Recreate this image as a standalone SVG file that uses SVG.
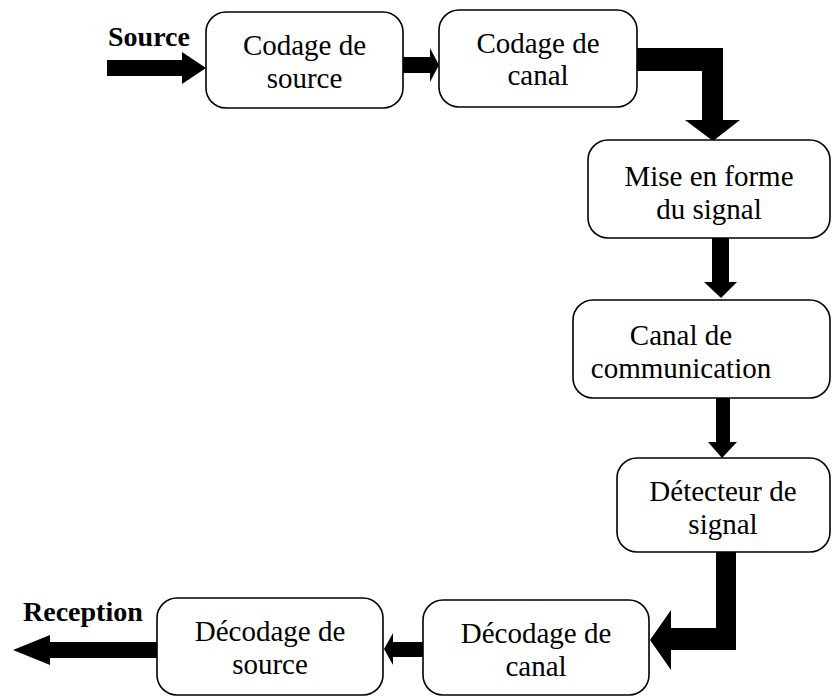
<svg xmlns="http://www.w3.org/2000/svg" width="833" height="698" viewBox="0 0 833 698">
  <style>
    .box { fill: #ffffff; stroke: #000000; stroke-width: 1.6; }
    .lbl { font-family: "Liberation Serif", "Times New Roman", serif; font-size: 29px; fill: #000000; text-anchor: middle; }
    .io { font-family: "Liberation Serif", "Times New Roman", serif; font-size: 28px; font-weight: bold; fill: #000000; }
    .arrow { fill: #000000; stroke: none; }
  </style>
  <rect width="833" height="698" fill="#ffffff"/>

  <!-- connectors: block arrows -->
  <g id="connectors">
    <polygon class="arrow" points="107,60 182,60 182,52 206,68 182,84 182,76 107,76"/>
    <polygon class="arrow" points="403,57 430,57 430,48 439,65 430,82 430,73 403,73"/>
    <polygon class="arrow" points="637,48 723,48 723,120 740,120 713,141 685,120 702,120 702,71 637,71"/>
    <polygon class="arrow" points="712,238 729,238 729,282 737,282 721,298 704,282 712,282"/>
    <polygon class="arrow" points="716,398 730,398 730,442 737,442 722,458 708,442 716,442"/>
    <polygon class="arrow" points="716,552 736,552 736,650 671,650 671,670 650,640 671,610 671,628 716,628"/>
    <polygon class="arrow" points="423,642 393,642 393,633 384,649 393,665 393,657 423,657"/>
    <polygon class="arrow" points="157,642 50,642 50,635 13,650 50,665 50,658 157,658"/>
  </g>

  <g id="label-source">
    <text class="io" x="108" y="46">Source</text>
  </g>
  <g id="label-reception">
    <text class="io" x="23" y="621">Reception</text>
  </g>

  <g id="codage-source">
    <rect class="box" x="206" y="12" width="197" height="96" rx="20"/>
    <text class="lbl" x="304.5" y="55">Codage de</text>
    <text class="lbl" x="304.5" y="88">source</text>
  </g>

  <g id="codage-canal">
    <rect class="box" x="439" y="10" width="198" height="97" rx="20"/>
    <text class="lbl" x="538" y="53">Codage de</text>
    <text class="lbl" x="538" y="85">canal</text>
  </g>

  <g id="mise-en-forme">
    <rect class="box" x="588" y="140" width="242" height="98" rx="20"/>
    <text class="lbl" x="709" y="186">Mise en forme</text>
    <text class="lbl" x="709" y="219">du signal</text>
  </g>

  <g id="canal-communication">
    <rect class="box" x="573" y="300" width="257" height="98" rx="20"/>
    <text class="lbl" x="681" y="345">Canal de</text>
    <text class="lbl" x="681" y="378">communication</text>
  </g>

  <g id="detecteur-signal">
    <rect class="box" x="617" y="458" width="213" height="94" rx="20"/>
    <text class="lbl" x="723" y="501">Détecteur de</text>
    <text class="lbl" x="723" y="534">signal</text>
  </g>

  <g id="decodage-canal">
    <rect class="box" x="423" y="600" width="226" height="95" rx="20"/>
    <text class="lbl" x="536" y="643">Décodage de</text>
    <text class="lbl" x="536" y="676">canal</text>
  </g>

  <g id="decodage-source">
    <rect class="box" x="157" y="598" width="226" height="97" rx="20"/>
    <text class="lbl" x="270" y="641">Décodage de</text>
    <text class="lbl" x="270" y="674">source</text>
  </g>
</svg>
